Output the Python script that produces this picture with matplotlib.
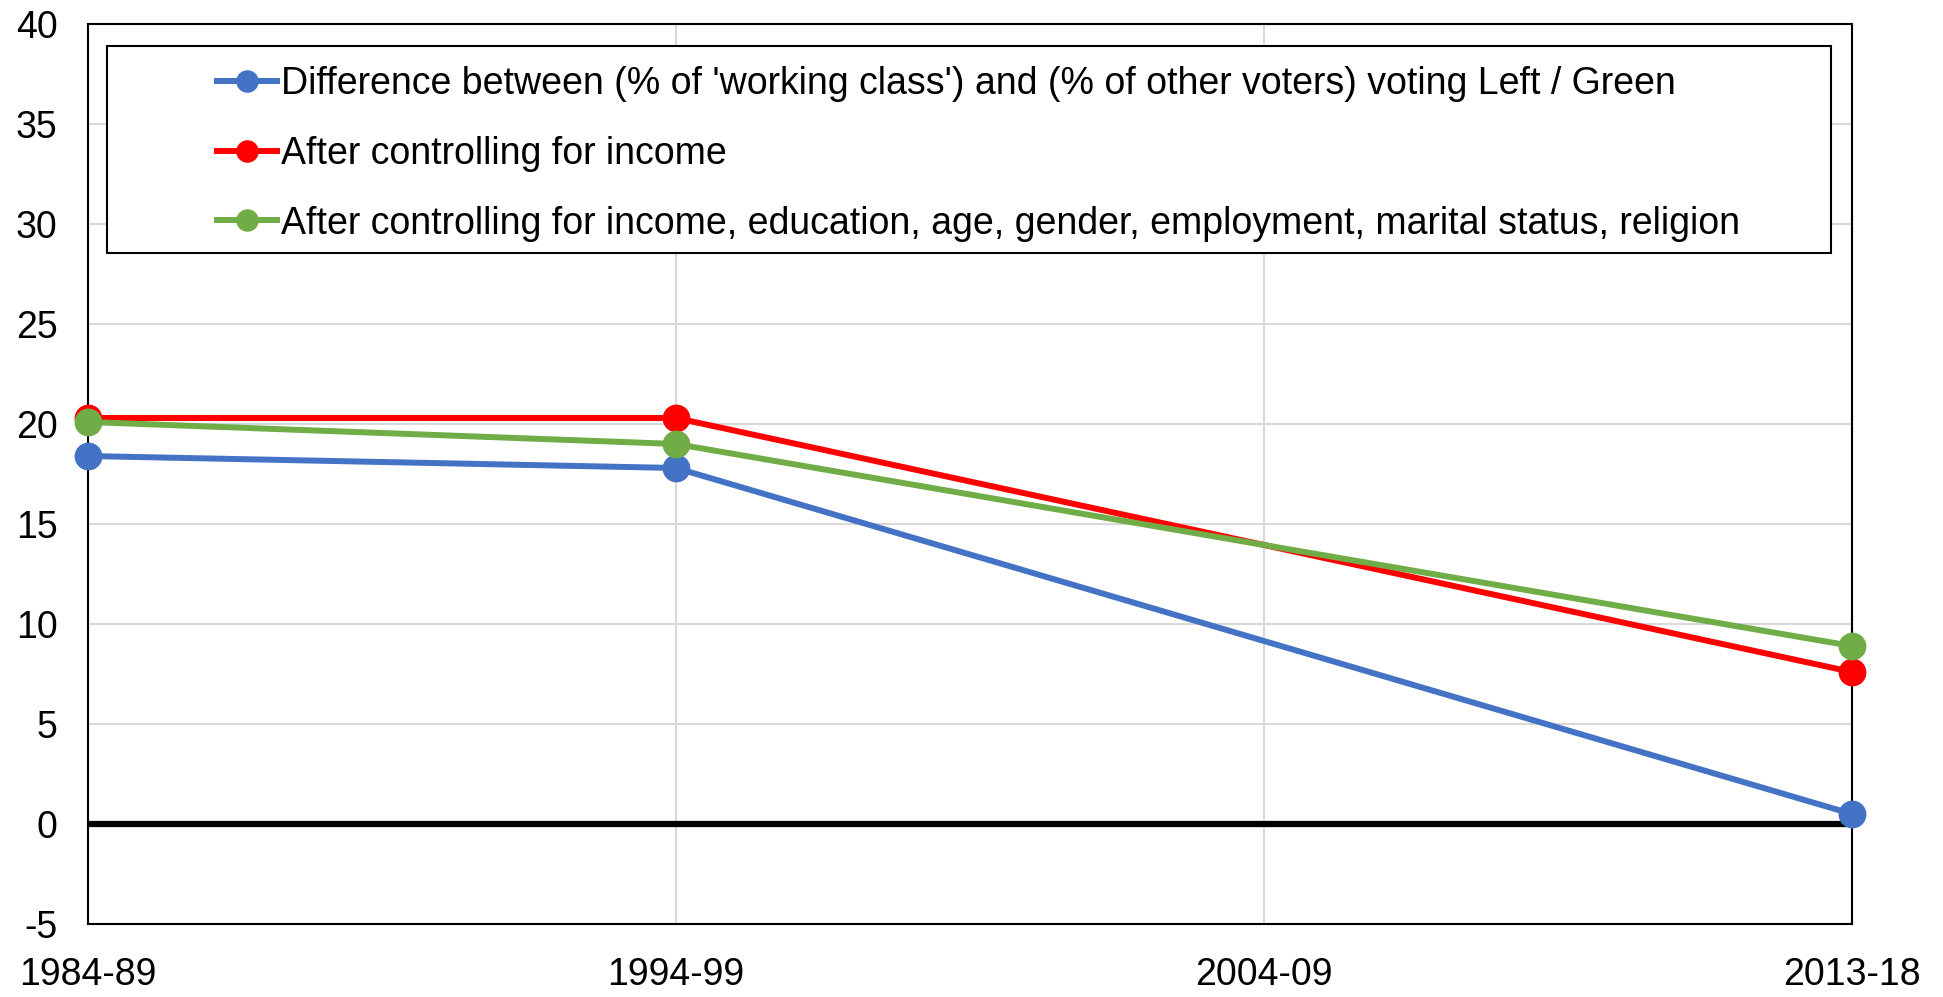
import numpy as np
import matplotlib
matplotlib.use("Agg")
import matplotlib.pyplot as plt
from matplotlib.patches import Rectangle

plt.rcParams['font.family'] = ['Liberation Sans', 'DejaVu Sans']
plt.rcParams['axes.unicode_minus'] = False

periods = ["1984-89", "1994-99", "2004-09", "2013-18"]
# no survey for 2004-09: the lines just connect across it
raw_gap = [18.4, 17.8, np.nan, 0.5]
after_income = [20.3, 20.3, np.nan, 7.6]
after_all = [20.1, 19.0, np.nan, 8.9]

labels = [
    "Difference between (% of 'working class') and (% of other voters) voting Left / Green",
    "After controlling for income",
    "After controlling for income, education, age, gender, employment, marital status, religion",
]
colors = ["#4472C4", "#FF0000", "#70AD47"]

W, H = 1943, 997
fig = plt.figure(figsize=(W / 100, H / 100), dpi=100)
ax = fig.add_axes([88 / W, 1 - 924 / H, (1852 - 88) / W, 900 / H])

x = np.arange(len(periods))
for vals, lab, col in zip([raw_gap, after_income, after_all], labels, colors):
    v = np.array(vals, dtype=float)
    ok = ~np.isnan(v)
    ax.plot(x[ok], v[ok], color=col, lw=4.3, marker="o", ms=19,
            label=lab, zorder=3, clip_on=False)

ax.axhline(0, color="black", lw=4.5, zorder=2)

ax.set_xlim(0, 3)
ax.set_ylim(-5, 40)
ax.set_xticks(x)
ax.set_xticklabels(periods)
ax.set_yticks(np.arange(-5, 41, 5))
ax.grid(True, color="#D9D9D9", lw=1.5, zorder=0)
ax.tick_params(axis="both", length=0, labelsize=27)
ax.tick_params(axis="y", pad=22)
ax.tick_params(axis="x", pad=24)
for s in ax.spines.values():
    s.set_color("black")
    s.set_linewidth(1.5)

# legend box is wider than its text, so draw the frame separately
ax.add_patch(Rectangle((107 / W, 1 - 253 / H), (1831 - 107) / W, (253 - 46) / H,
                       transform=fig.transFigure, facecolor="white",
                       edgecolor="black", lw=1.5, zorder=4, clip_on=False))
leg = ax.legend(loc="upper left", bbox_to_anchor=(187 / W, 1 - 36 / H),
                bbox_transform=fig.transFigure, fontsize=27, frameon=False,
                handlelength=1.6, handletextpad=0.1, labelspacing=0.9,
                borderpad=0.3, markerscale=0.8)
leg.set_zorder(5)

fig.savefig("out.png", dpi=100)
